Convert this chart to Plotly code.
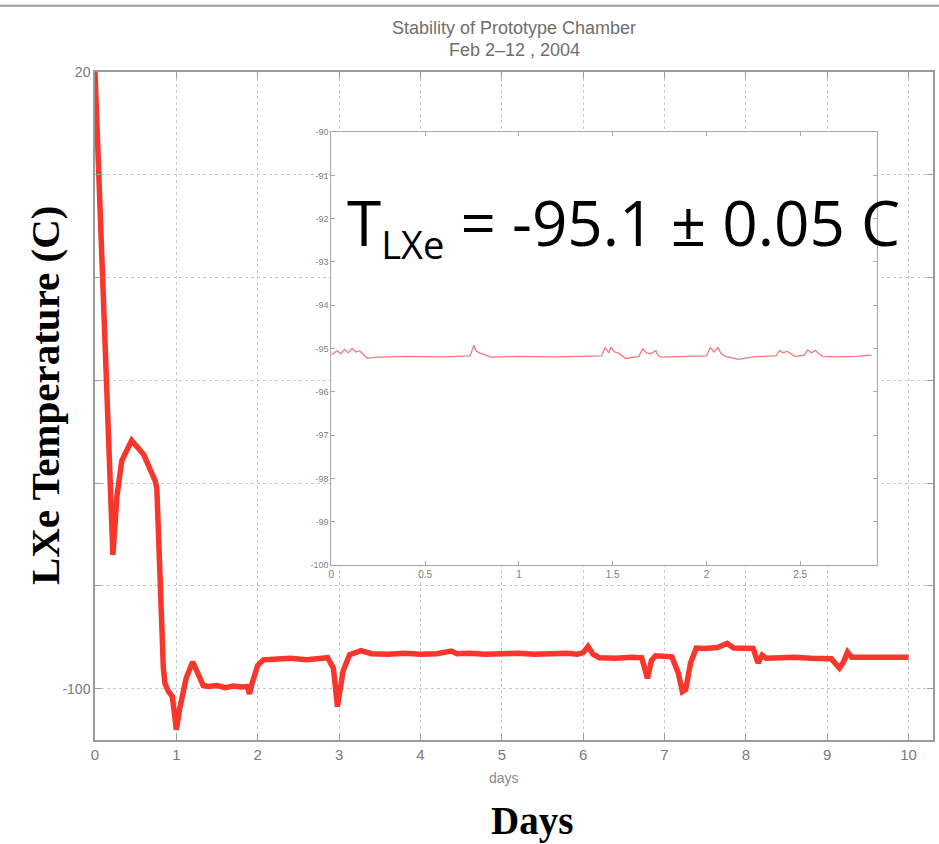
import plotly.graph_objects as go

# ---- main series (days, LXe temperature in C) ----
main_days = [0, 0.22, 0.27, 0.33, 0.45, 0.6, 0.74, 0.76, 0.84, 0.86, 0.9, 0.95, 1.0, 1.04, 1.12,
             1.2, 1.25, 1.33, 1.4, 1.5, 1.6, 1.7, 1.8, 1.87, 1.9, 1.93, 2.0, 2.07, 2.2, 2.4, 2.6,
             2.8, 2.86, 2.93, 2.98, 3.05, 3.13, 3.27, 3.4, 3.6, 3.8, 4.0, 4.2, 4.38, 4.45, 4.6,
             4.8, 5.0, 5.2, 5.4, 5.6, 5.8, 5.93, 6.0, 6.06, 6.12, 6.2, 6.4, 6.6, 6.72, 6.79, 6.84,
             6.89, 7.0, 7.09, 7.17, 7.22, 7.26, 7.32, 7.39, 7.5, 7.65, 7.77, 7.85, 8.0, 8.09,
             8.15, 8.2, 8.25, 8.4, 8.6, 8.8, 9.0, 9.05, 9.15, 9.2, 9.25, 9.3, 9.5, 9.7, 9.9, 10.0]
main_temp = [20, -74, -62.5, -55.6, -51.7, -54.5, -59.6, -61, -96, -99, -100.5, -101.5, -108, -104, -98,
             -94.8, -96.5, -99.4, -99.6, -99.4, -99.8, -99.5, -99.7, -99.6, -101, -99, -95.5, -94.4, -94.3, -94.1, -94.4,
             -94.2, -94.0, -96, -103.5, -96.5, -93.4, -92.6, -93.2, -93.3, -93.1, -93.3, -93.2, -92.7, -93.2, -93.1,
             -93.3, -93.2, -93.1, -93.3, -93.2, -93.1, -93.3, -93.0, -91.8, -93.3, -94.0, -94.1, -93.9, -94.0, -98.0, -94.5,
             -93.6, -93.8, -93.8, -97, -100.6, -100.2, -95, -92.1, -92.2, -92.0, -91.2, -92.1, -92.0, -92.2,
             -95.0, -93.5, -94.1, -94.0, -93.9, -94.1, -94.0, -94.2, -96.0, -94.8, -92.9, -93.9, -93.9, -94.0, -93.9, -93.9]

# ---- inset series ----
inset_days = [0, 0.03, 0.05, 0.07, 0.09, 0.11, 0.13, 0.15, 0.19, 0.25, 0.4, 0.6, 0.74, 0.76, 0.77, 0.79,
              0.85, 1.0, 1.2, 1.44, 1.46, 1.48, 1.49, 1.51, 1.53, 1.57, 1.64, 1.66, 1.68, 1.70, 1.73,
              1.74, 1.76, 1.85, 2.0, 2.02, 2.04, 2.06, 2.08, 2.10, 2.17, 2.25, 2.37, 2.39, 2.41, 2.43,
              2.45, 2.47, 2.52, 2.54, 2.56, 2.58, 2.60, 2.62, 2.7, 2.8, 2.88]
inset_temp = [-95.15, -95.05, -95.12, -95.02, -95.1, -95.0, -95.08, -95.05, -95.22, -95.2, -95.18, -95.19,
              -95.17, -94.92, -95.05, -95.1, -95.2, -95.18, -95.19, -95.17, -94.98, -95.1, -94.97, -95.08,
              -95.1, -95.23, -95.18, -95.0, -95.1, -95.12, -95.05, -95.15, -95.2, -95.19, -95.17, -94.98,
              -95.08, -94.98, -95.12, -95.18, -95.25, -95.19, -95.17, -95.05, -95.1, -95.06, -95.12, -95.18,
              -95.16, -95.03, -95.1, -95.04, -95.12, -95.18, -95.19, -95.18, -95.15]

main_xticks = list(range(0, 11))
main_ylabeled = [-100, 20]
main_ylabels = ["-100", "20"]
inset_xticks = [0, 0.5, 1, 1.5, 2, 2.5]
inset_yticks = [-100, -99, -98, -97, -96, -95, -94, -93, -92, -91, -90]
inset_ylabels = ["-100", "-99", "-98", "-97", "-96", "-95", "-94", "-93", "-92", "-91", "-90"]

title_line1 = "Stability of Prototype Chamber"
title_line2 = "Feb 2\u201312 , 2004"
ylabel_text = "LXe Temperature (C)"
xlabel_text = "Days"
small_xlabel = "days"
result_text = "T<sub><span style='font-size:38px'>LXe</span></sub> = -95.1 \u00b1 0.05 C"

fig = go.Figure()
fig.add_trace(go.Scatter(x=main_days, y=main_temp, mode="lines",
                         line=dict(color="#f8362c", width=5.5), xaxis="x", yaxis="y",
                         showlegend=False))
fig.add_trace(go.Scatter(x=inset_days, y=inset_temp, mode="lines",
                         line=dict(color="#f07a7a", width=1.3), xaxis="x2", yaxis="y2",
                         showlegend=False))

axcol = "#9a9a9a"
gridstyle = dict(showgrid=True, gridcolor="#c8c8c8", griddash="dot", gridwidth=1)
fig.update_layout(
    width=939, height=844,
    margin=dict(l=95, r=4, t=72, b=104),
    paper_bgcolor="white", plot_bgcolor="white",
    xaxis=dict(domain=[0, 1], range=[0, 10.3], tickvals=main_xticks, **gridstyle,
               zeroline=False, showline=True, linecolor=axcol, linewidth=1.5, mirror="ticks",
               ticks="inside", ticklen=6, tickcolor=axcol,
               tickfont=dict(family="Liberation Sans", size=15, color="#7a7a7a")),
    yaxis=dict(domain=[0, 1], range=[-110, 20], tickvals=main_ylabeled, ticktext=main_ylabels,
               **gridstyle,
               minor=dict(tick0=0, dtick=20, ticks="inside", ticklen=6, tickcolor=axcol,
                          showgrid=True, gridcolor="#c8c8c8", griddash="dot", gridwidth=1),
               zeroline=False, showline=True, linecolor=axcol, linewidth=1.5, mirror="ticks",
               ticks="inside", ticklen=6, tickcolor=axcol,
               tickfont=dict(family="Liberation Sans", size=14, color="#7a7a7a")),
    xaxis2=dict(domain=[0.2821, 0.9333], range=[0, 2.91], anchor="y2", tickvals=inset_xticks,
                showgrid=False, zeroline=False, showline=True, linecolor="#a8a8a8", linewidth=1,
                mirror="ticks", ticks="inside", ticklen=4, tickcolor="#a8a8a8",
                tickfont=dict(family="Liberation Sans", size=10, color="#808080")),
    yaxis2=dict(domain=[0.262, 0.910], range=[-100, -90], anchor="x2", tickvals=inset_yticks,
                ticktext=inset_ylabels,
                showgrid=False, zeroline=False, showline=True, linecolor="#a8a8a8", linewidth=1,
                mirror="ticks", ticks="inside", ticklen=4, tickcolor="#a8a8a8",
                tickfont=dict(family="Liberation Sans", size=9, color="#808080")),
    shapes=[dict(type="line", xref="paper", yref="paper", x0=-0.12, x1=1.01, y0=1.099, y1=1.099,
                 line=dict(color="#9a9a9a", width=2))],
    annotations=[
        dict(text=title_line1, xref="paper", yref="paper", x=0.5, y=1.066, showarrow=False,
             xanchor="center", yanchor="middle",
             font=dict(family="Liberation Sans", size=18, color="#6e6e6e")),
        dict(text=title_line2, xref="paper", yref="paper", x=0.5, y=1.033, showarrow=False,
             xanchor="center", yanchor="middle",
             font=dict(family="Liberation Sans", size=18, color="#6e6e6e")),
        dict(text="<b>" + ylabel_text + "</b>", xref="paper", yref="paper", x=-0.0595, y=0.5165,
             showarrow=False, textangle=-90, xanchor="center", yanchor="middle",
             font=dict(family="Liberation Serif", size=41, color="black")),
        dict(text="<b>" + xlabel_text + "</b>", xref="paper", yref="paper", x=0.5214, y=-0.121,
             showarrow=False, xanchor="center", yanchor="middle",
             font=dict(family="Liberation Serif", size=39, color="black")),
        dict(text=small_xlabel, xref="paper", yref="paper", x=0.488, y=-0.057, showarrow=False,
             xanchor="center", yanchor="middle",
             font=dict(family="Liberation Sans", size=14, color="#8a8a8a")),
        dict(text=result_text, xref="paper", yref="paper", x=0.298, y=0.771, showarrow=False,
             xanchor="left", yanchor="middle",
             font=dict(family="Open Sans", size=62, color="black")),
    ],
)

fig.write_html("out.html")
